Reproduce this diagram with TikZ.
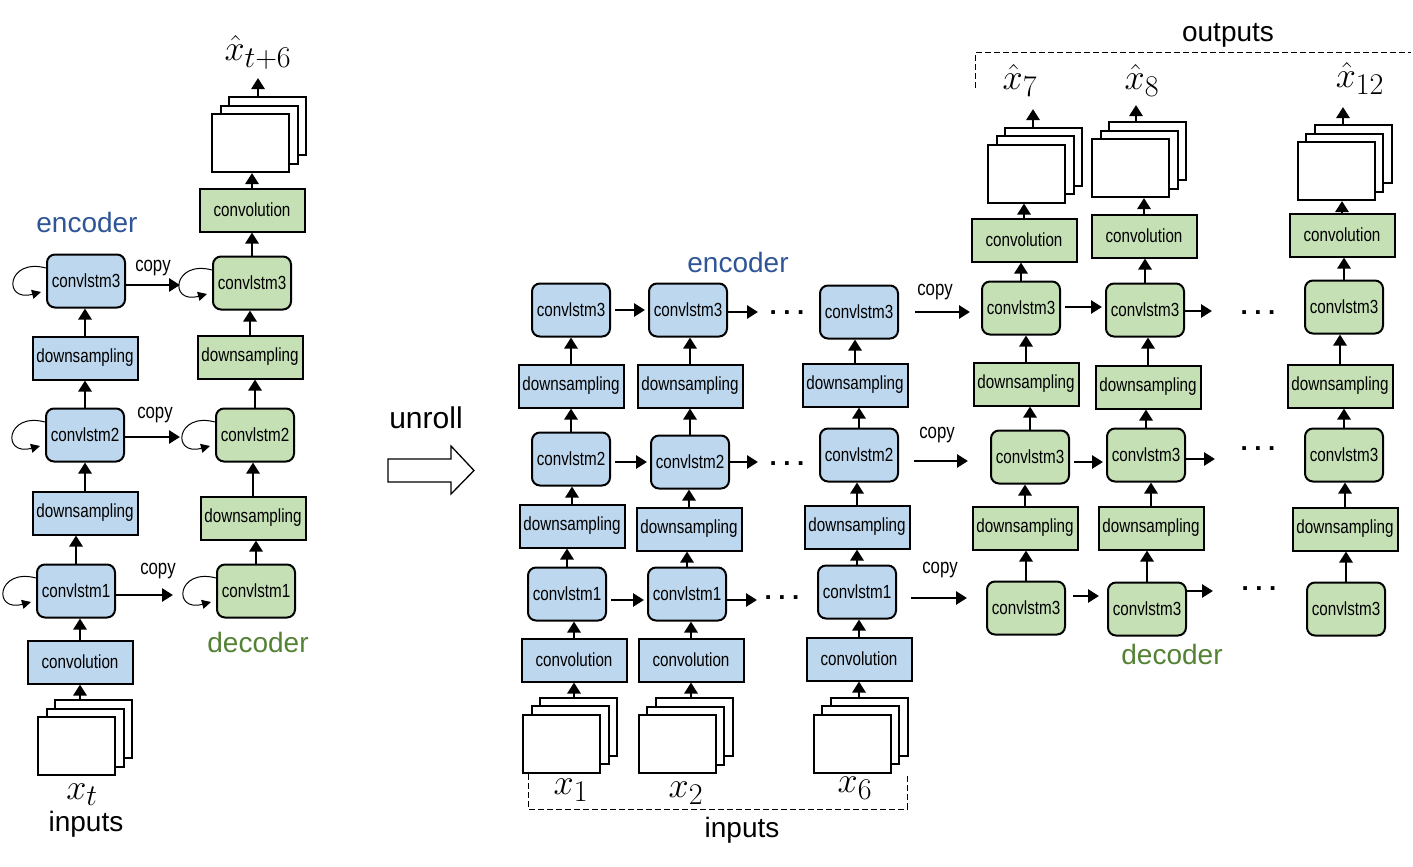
\documentclass[tikz,border=0pt]{standalone}
\usepackage[no-math]{fontspec}
\setmainfont{Liberation Sans}
\newfontfamily\narrowsf[FakeStretch=0.8]{Liberation Sans}
\usetikzlibrary{arrows.meta}

\definecolor{encfill}{RGB}{189,215,238}
\definecolor{decfill}{RGB}{197,224,180}
\definecolor{enctext}{RGB}{47,85,151}
\definecolor{dectext}{RGB}{84,130,53}

\tikzset{
  box/.style={draw, line width=2pt, inner sep=0pt,
              font=\narrowsf\fontsize{19}{21}\selectfont},
  lstmE/.style={box, rounded corners=8pt, fill=encfill, minimum width=78pt, minimum height=53pt},
  lstmD/.style={box, rounded corners=8pt, fill=decfill, minimum width=78pt, minimum height=53pt},
  layerE/.style={box, fill=encfill, minimum width=105pt, minimum height=43pt},
  layerD/.style={box, fill=decfill, minimum width=105pt, minimum height=43pt},
  frame/.style={draw, line width=2pt, fill=white, minimum width=77pt, minimum height=58pt},
  flow/.style={line width=2.8pt, -{Triangle[length=11pt,width=13pt]}},
  selfloop/.style={line width=1pt, -{Triangle[length=9pt,width=9pt]}},
  copylbl/.style={font=\narrowsf\fontsize{21}{23}\selectfont},
  biglbl/.style={font=\fontsize{28}{32}\selectfont},
  mathlbl/.style={font=\fontsize{24.88}{28}\selectfont, scale=1.45, transform shape},
  dots/.style={inner sep=0pt, font=\bfseries\fontsize{26}{26}\selectfont},
  bracket/.style={line width=1pt, dash pattern=on 6pt off 3pt},
}

% three stacked frames, #1 = name of the front one
\newcommand{\framestack}[3]{%
  \node[frame] (#1b) at (#2+17,#3+17) {};
  \node[frame] (#1m) at (#2+8.5,#3+8.5) {};
  \node[frame] (#1) at (#2,#3) {};}
\newcommand{\threedots}{.\hspace{6.5pt}.\hspace{6.5pt}.}

\begin{document}
\begin{tikzpicture}[x=1pt, y=1pt]
  \useasboundingbox (0,0) rectangle (1413,-867);

  % ---- folded model ----
  \node[lstmE] (e3) at (86,-281) {convlstm3};
  \node[layerE] (eds2) at (85,-358) {downsampling};
  \node[lstmE] (e2) at (85,-435) {convlstm2};
  \node[layerE] (eds1) at (85,-513) {downsampling};
  \node[lstmE] (e1) at (76,-591) {convlstm1};
  \node[layerE] (econv) at (80,-662) {convolution};
  \framestack{ein}{76.5}{-746}

  \node[lstmD] (d3) at (252,-283) {convlstm3};
  \node[layerD] (dds2) at (250,-357) {downsampling};
  \node[lstmD] (d2) at (255,-435) {convlstm2};
  \node[layerD] (dds1) at (253,-518) {downsampling};
  \node[lstmD] (d1) at (256,-591) {convlstm1};
  \node[layerD] (dconv) at (252,-210) {convolution};
  \framestack{dout}{250.5}{-143}

  \node[biglbl, text=enctext] (enclbl) at (87,-222) {encoder};
  \node[biglbl, text=dectext] (declbl) at (258,-642) {decoder};
  \node[mathlbl] (xt) at (82,-795) {$x_t$};
  \node[biglbl] (inlbl) at (86,-824) {inputs};
  \node[mathlbl] (xhat) at (258,-52) {$\hat{x}_{t+6}$};

  \coordinate (dtop) at (258,-78);
  \coordinate (cp3) at (180,-285);
  \coordinate (cp2) at (180,-437);
  \coordinate (cp1) at (173,-595);

  \foreach \a/\b in {econv/e1, e1/eds1, eds1/e2, e2/eds2, eds2/e3,
                     d1/dds1, dds1/d2, d2/dds2, dds2/d3, d3/dconv, dconv/dout}
    \draw[flow] (\a.north) -- (\a.north |- \b.south);
  \draw[flow] (econv.south |- einb.north) -- (econv.south);
  \draw[flow] (dtop |- doutb.north) -- (dtop);

  \foreach \n in {e3, e2, e1, d3, d2, d1}
    \draw[selfloop] ([yshift=13pt]\n.west) to[out=165, in=195, looseness=4.2]
                    ([xshift=-5pt, yshift=-11pt]\n.west);

  \draw[flow] (e3.east |- cp3) -- (cp3);
  \draw[flow] (e2.east |- cp2) -- (cp2);
  \draw[flow] (e1.east |- cp1) -- (cp1);
  \node[copylbl] (cpl3) at (153,-268) {copy};
  \node[copylbl] (cpl2) at (155,-415) {copy};
  \node[copylbl] (cpl1) at (158,-571) {copy};

  % ---- unroll ----
  \node[font=\fontsize{30}{34}\selectfont] (unroll) at (426,-418) {unroll};
  \draw[line width=1.3pt] (388,-459) -- (451,-459) -- (451,-446) -- (474,-470.5)
    -- (451,-494) -- (451,-482) -- (388,-482) -- cycle;

  % ---- unrolled encoder ----
  \node[lstmE] (u1c3) at (571,-310) {convlstm3};
  \node[layerE] (u1ds2) at (571,-386) {downsampling};
  \node[lstmE] (u1c2) at (571,-459) {convlstm2};
  \node[layerE] (u1ds1) at (572,-526) {downsampling};
  \node[lstmE] (u1c1) at (567,-594) {convlstm1};
  \node[layerE] (u1cv) at (574,-660) {convolution};
  \framestack{u1in}{561.5}{-743.5}

  \node[lstmE] (u2c3) at (688,-310) {convlstm3};
  \node[layerE] (u2ds2) at (690,-386) {downsampling};
  \node[lstmE] (u2c2) at (690,-462) {convlstm2};
  \node[layerE] (u2ds1) at (689,-529) {downsampling};
  \node[lstmE] (u2c1) at (687,-594) {convlstm1};
  \node[layerE] (u2cv) at (691,-660) {convolution};
  \framestack{u2in}{677}{-744}

  \node[lstmE] (u6c3) at (859,-312) {convlstm3};
  \node[layerE] (u6ds2) at (855,-385) {downsampling};
  \node[lstmE] (u6c2) at (859,-455) {convlstm2};
  \node[layerE] (u6ds1) at (857,-527) {downsampling};
  \node[lstmE] (u6c1) at (857,-592) {convlstm1};
  \node[layerE] (u6cv) at (859,-659) {convolution};
  \framestack{u6in}{852}{-743.5}

  \node[biglbl, text=enctext] (uenc) at (738,-262) {encoder};
  \node[mathlbl] (x1) at (571,-790) {$x_1$};
  \node[mathlbl] (x2) at (686,-793) {$x_2$};
  \node[mathlbl] (x6) at (855,-788) {$x_6$};
  \node[biglbl] (uin) at (742,-830) {inputs};
  \draw[bracket] (528,-774) -- (528,-809) -- (907,-809) -- (907,-774);

  \foreach \k in {u1, u2, u6} {
    \foreach \a/\b in {cv/c1, c1/ds1, ds1/c2, c2/ds2, ds2/c3}
      \draw[flow] (\k\a.north) -- (\k\a.north |- \k\b.south);
    \draw[flow] (\k cv.south |- \k inb.north) -- (\k cv.south);
  }

  \coordinate (ed3) at (758,-312);
  \coordinate (ed2) at (758,-462);
  \coordinate (ed1) at (757,-600);
  \draw[flow, shorten <=4pt, shorten >=3pt] (u1c3.east) -- (u2c3.west);
  \draw[flow, shorten <=4pt, shorten >=3pt] ([yshift=-3pt]u1c2.east) -- (u2c2.west);
  \draw[flow, shorten <=4pt, shorten >=3pt] ([yshift=-6pt]u1c1.east) -- ([yshift=-6pt]u2c1.west);
  \draw[flow] (u2c3.east |- ed3) -- (ed3);
  \draw[flow] (u2c2.east |- ed2) -- (ed2);
  \draw[flow] (u2c1.east |- ed1) -- (ed1);
  \node[dots] (edots3) at (787,-313) {\threedots};
  \node[dots] (edots2) at (787,-464) {\threedots};
  \node[dots] (edots1) at (782,-598) {\threedots};

  % ---- copy to the decoder ----
  \coordinate (cq3) at (970,-312);
  \coordinate (cq2) at (968,-461);
  \coordinate (cq1) at (967,-598);
  \draw[flow] ([xshift=16pt]u6c3.east) -- (cq3);
  \draw[flow] ([xshift=15pt]u6c2.east |- cq2) -- (cq2);
  \draw[flow] ([xshift=14pt]u6c1.east |- cq1) -- (cq1);
  \node[copylbl] (cql3) at (935,-292) {copy};
  \node[copylbl] (cql2) at (937,-435) {copy};
  \node[copylbl] (cql1) at (940,-570) {copy};

  % ---- unrolled decoder ----
  \node[lstmD] (v7c3) at (1021,-308) {convlstm3};
  \node[layerD] (v7ds2) at (1026,-384) {downsampling};
  \node[lstmD] (v7c2) at (1030,-457) {convlstm3};
  \node[layerD] (v7ds1) at (1025,-528) {downsampling};
  \node[lstmD] (v7c1) at (1026,-608) {convlstm3};
  \node[layerD] (v7cv) at (1024,-240) {convolution};
  \framestack{v7out}{1026.5}{-173.5}

  \node[lstmD] (v8c3) at (1145,-310) {convlstm3};
  \node[layerD] (v8ds2) at (1148,-387) {downsampling};
  \node[lstmD] (v8c2) at (1146,-455) {convlstm3};
  \node[layerD] (v8ds1) at (1151,-528) {downsampling};
  \node[lstmD] (v8c1) at (1147,-609) {convlstm3};
  \node[layerD] (v8cv) at (1144,-236) {convolution};
  \framestack{v8out}{1130.5}{-168}

  \node[lstmD] (v12c3) at (1344,-307) {convlstm3};
  \node[layerD] (v12ds2) at (1340,-386) {downsampling};
  \node[lstmD] (v12c2) at (1344,-455) {convlstm3};
  \node[layerD] (v12ds1) at (1345,-529) {downsampling};
  \node[lstmD] (v12c1) at (1346,-609) {convlstm3};
  \node[layerD] (v12cv) at (1342,-235) {convolution};
  \framestack{v12out}{1336}{-171}

  \node[biglbl, text=dectext] (udec) at (1172,-654) {decoder};
  \node[mathlbl] (xh7) at (1020,-80) {$\hat{x}_7$};
  \node[mathlbl] (xh8) at (1142,-80) {$\hat{x}_8$};
  \node[mathlbl] (xh12) at (1360,-78) {$\hat{x}_{12}$};
  \node[biglbl] (uout) at (1228,-35) {outputs};
  \draw[bracket] (975,-88) -- (975,-53) -- (1411,-53);

  \coordinate (o7) at (1033,-109);
  \coordinate (o8) at (1136,-105);
  \coordinate (o12) at (1343,-107);
  \foreach \k/\o in {v7/o7, v8/o8, v12/o12} {
    \foreach \a/\b in {c1/ds1, ds1/c2, c2/ds2, ds2/c3, c3/cv, cv/out}
      \draw[flow] (\k\a.north) -- (\k\a.north |- \k\b.south);
    \draw[flow] (\o |- \k outb.north) -- (\o);
  }

  \coordinate (dd3) at (1212,-311);
  \coordinate (dd2) at (1215,-459);
  \coordinate (dd1) at (1213,-591);
  \draw[flow, shorten <=4pt, shorten >=3pt] ([yshift=1pt]v7c3.east) -- ([yshift=3pt]v8c3.west);
  \draw[flow, shorten <=4pt, shorten >=3pt] ([yshift=-5pt]v7c2.east) -- ([yshift=-7pt]v8c2.west);
  \draw[flow, shorten <=7pt, shorten >=8pt] ([yshift=12pt]v7c1.east) -- ([yshift=13pt]v8c1.west);
  \draw[flow] (v8c3.east |- dd3) -- (dd3);
  \draw[flow] (v8c2.east |- dd2) -- (dd2);
  \draw[flow] (v8c1.east |- dd1) -- (dd1);
  \node[dots] (ddots3) at (1258,-313) {\threedots};
  \node[dots] (ddots2) at (1258,-449) {\threedots};
  \node[dots] (ddots1) at (1259,-589) {\threedots};
\end{tikzpicture}
\end{document}
